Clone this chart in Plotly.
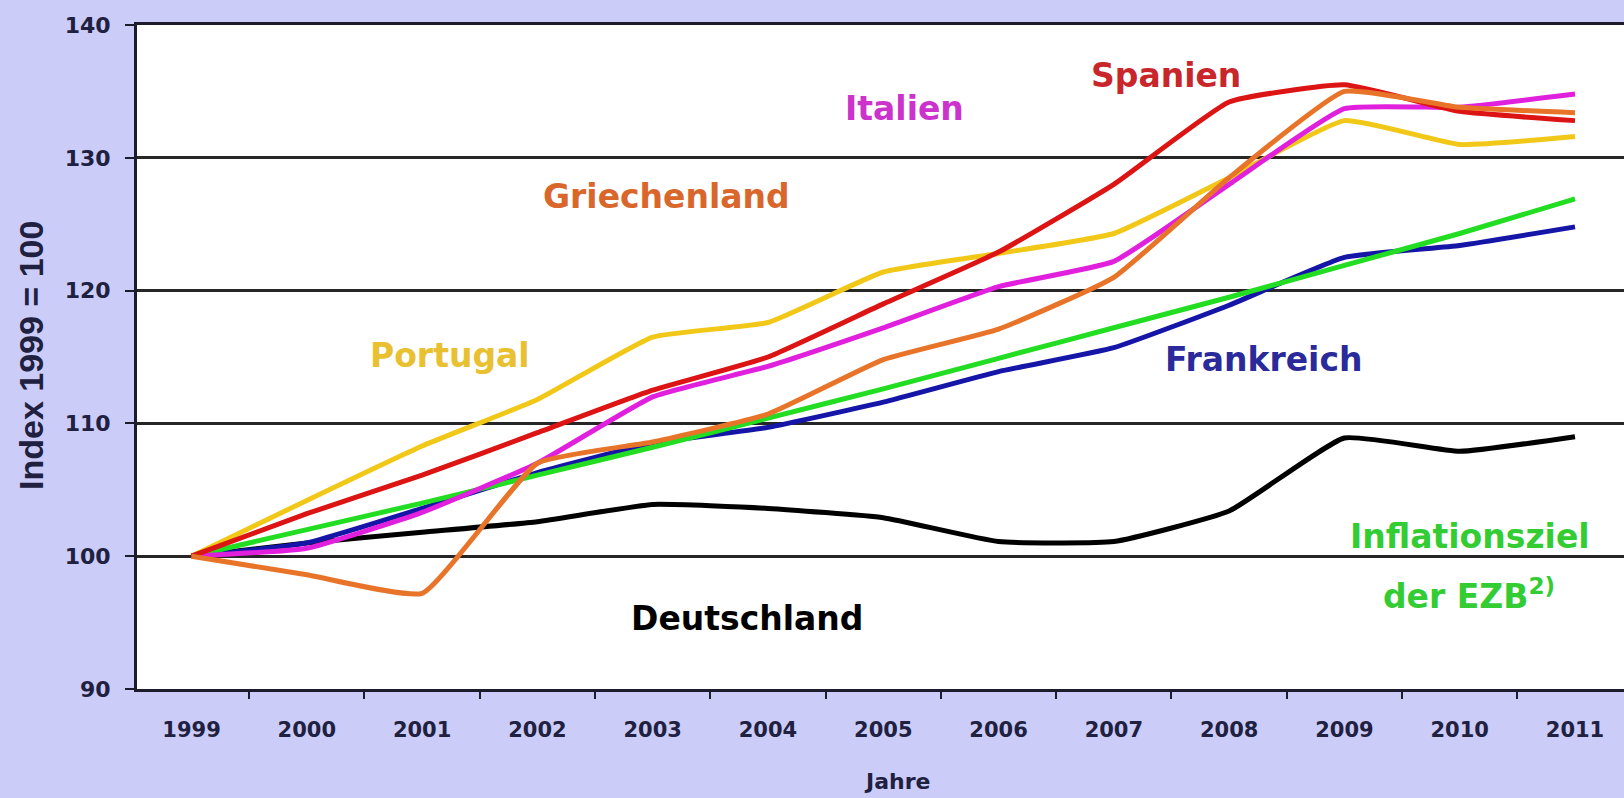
import plotly.graph_objects as go

# Lohnstückkosten-Index (1999 = 100) je Land
years = list(range(1999, 2012))
year_labels = [str(y) for y in years]

deutschland = [100.0, 101.0, 101.8, 102.6, 103.9, 103.6, 102.9, 101.1, 101.1, 103.4, 108.9, 107.9, 109.0]
frankreich = [100.0, 101.0, 103.6, 106.3, 108.5, 109.7, 111.6, 113.9, 115.7, 118.9, 122.5, 123.4, 124.8]
ezb_ziel = [100.0, 102.0, 104.0, 106.1, 108.2, 110.4, 112.6, 114.9, 117.2, 119.5, 121.9, 124.3, 126.9]
portugal = [100.0, 104.2, 108.3, 111.8, 116.5, 117.6, 121.4, 122.8, 124.3, 128.5, 132.8, 131.0, 131.6]
italien = [100.0, 100.6, 103.3, 107.0, 112.0, 114.3, 117.2, 120.3, 122.2, 128.0, 133.7, 133.8, 134.8]
spanien = [100.0, 103.2, 106.1, 109.3, 112.5, 115.0, 119.0, 122.9, 128.0, 134.2, 135.5, 133.5, 132.8]
griechenland = [100.0, 98.6, 97.2, 107.0, 108.6, 110.7, 114.8, 117.1, 121.0, 128.5, 135.0, 133.8, 133.4]

y_ticks = [90, 100, 110, 120, 130, 140]

BG = "#ccccf8"
AXIS = "#1c1c2c"
TICKTXT = "#202040"

series = [
    ("Deutschland", deutschland, "#000000"),
    ("Frankreich", frankreich, "#1515a8"),
    ("Inflationsziel der EZB", ezb_ziel, "#22dd22"),
    ("Portugal", portugal, "#f2c818"),
    ("Italien", italien, "#e020dc"),
    ("Spanien", spanien, "#dc1414"),
    ("Griechenland", griechenland, "#e8742a"),
]

fig = go.Figure()
for name, vals, color in series:
    fig.add_trace(go.Scatter(
        x=years, y=vals, mode="lines", name=name,
        line=dict(color=color, width=5, shape="spline", smoothing=0.4),
        showlegend=False,
    ))

label_font = dict(family="DejaVu Sans", size=33, weight="bold")

# Beschriftungen der Linien
labels = [
    ("Spanien", 2007.45, 136.2, "#c8262a"),
    ("Italien", 2005.18, 133.7, "#cc33cc"),
    ("Griechenland", 2003.12, 127.1, "#d9662a"),
    ("Portugal", 2001.24, 115.15, "#e8c030"),
    ("Frankreich", 2008.30, 114.8, "#2a2a9a"),
    ("Deutschland", 2003.82, 95.3, "#000000"),
    ("Inflationsziel", 2010.09, 101.45, "#33cc33"),
    ("der EZB<sup>2)</sup>", 2010.08, 97.1, "#33cc33"),
]
for text, x, y, color in labels:
    fig.add_annotation(x=x, y=y, xref="x", yref="y", text=text, showarrow=False,
                       xanchor="center", yanchor="middle",
                       font=dict(color=color, **label_font))

# Achsentitel
fig.add_annotation(x=2005.12, y=-0.1386, xref="x", yref="paper", text="Jahre",
                   showarrow=False, xanchor="center", yanchor="middle",
                   font=dict(family="DejaVu Sans", size=22, weight="bold", color=TICKTXT))
fig.add_annotation(x=-0.0713, y=115.15, xref="paper", yref="y", text="Index 1999 = 100",
                   showarrow=False, textangle=-90, xanchor="center", yanchor="middle",
                   font=dict(family="Liberation Sans", size=34, weight="bold", color=TICKTXT))

fig.update_layout(
    width=1624, height=798,
    margin=dict(l=137, r=0, t=25, b=109),
    paper_bgcolor=BG, plot_bgcolor="white",
    showlegend=False,
)

fig.update_xaxes(
    range=[1998.527, 2011.425],
    tickmode="array", tickvals=years, ticktext=year_labels,
    ticks="", showgrid=False, zeroline=False,
    showline=True, linecolor=AXIS, linewidth=3, mirror=True,
    tickfont=dict(family="DejaVu Sans", size=21, weight="bold", color=TICKTXT),
    ticklabelstandoff=20,
    minor=dict(tickmode="array", tickvals=[y + 0.5 for y in years[:-1]],
               ticks="outside", ticklen=7, tickwidth=2, tickcolor=AXIS, showgrid=False),
)

fig.update_yaxes(
    range=[90, 140],
    tickmode="array", tickvals=y_ticks, ticktext=[str(v) for v in y_ticks],
    showgrid=True, gridcolor="#262626", gridwidth=3, zeroline=False,
    showline=True, linecolor=AXIS, linewidth=3,
    ticks="outside", ticklen=9, tickwidth=2, tickcolor=AXIS,
    tickfont=dict(family="DejaVu Sans", size=22, weight="bold", color=TICKTXT),
    ticklabelstandoff=10,
)

fig.write_html("out.html")
